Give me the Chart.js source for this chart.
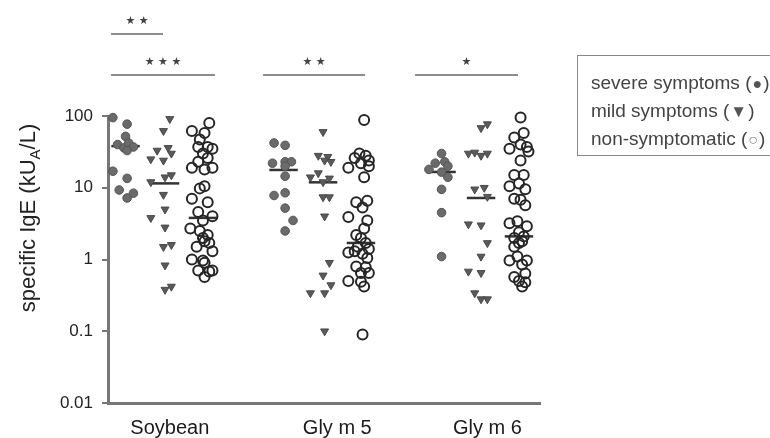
<!DOCTYPE html>
<html>
<head>
<meta charset="utf-8">
<script src="https://cdn.jsdelivr.net/npm/chart.js@4.4.1/dist/chart.umd.min.js"></script>
<style>
  html, body { margin: 0; padding: 0; background: #fff; }
  #wrap { position: relative; width: 770px; height: 438px; overflow: hidden; }
  #legend {
    position: absolute; left: 577px; top: 55px; width: 210px; height: 101px;
    border: 1px solid #888; box-sizing: border-box; padding: 13px 0 0 13px;
    font: 19px "Liberation Sans", Arial, sans-serif; color: #444; line-height: 27px;
  }
  #legend .sym { font-size: 16px; color: #555; padding: 0 1px; }
</style>
</head>
<body>
<div id="wrap">
  <canvas id="chart" width="770" height="438"></canvas>
  <div id="legend">
    <div>severe symptoms (<span class="sym">●</span>)</div>
    <div>mild symptoms (<span class="sym" style="font-size:17px">▼</span>)</div>
    <div>non-symptomatic (<span class="sym" style="color:#888">○</span>)</div>
  </div>
</div>
<script>
// Groups on the x axis and where their names sit (in group units).
const GROUPS = ["Soybean", "Gly m 5", "Gly m 6"];
const GROUP_TICKS = [0.03, 1.09, 2.04];
const SUBGROUPS = ["severe symptoms", "mild symptoms", "non-symptomatic"];
const SUB_OFFSET = [-0.25, 0, 0.24];

const Y_TICKS = [0.01, 0.1, 1, 10, 100];
const Y_TICK_LABELS = ["0.01", "0.1", "1", "10", "100"];

// Each point: [specific IgE kUA/L, horizontal jitter in group units]
const soySevere = [[95,-0.08],[77,0.01],[52,0],[40,-0.05],[36,-0.01],[42,0.02],[37,0.05],[33,0.01],
  [17,-0.08],[13.5,0.01],[9.3,-0.04],[8.4,0.05],[7.2,0.01]];
const soyMild = [[91,0.03],[62,-0.01],[33,-0.05],[36,0.02],[30,0.04],[25,-0.09],[24,-0.01],[14,0],
  [15,0.04],[12,-0.09],[8,-0.01],[5,0],[3.8,-0.09],[2.8,0],[1.5,-0.01],[1.6,0.04],[0.83,0],[0.38,0],[0.42,0.04]];
const soyNon = [[80,0.04],[62,-0.07],[58,0.01],[47,-0.02],[37,-0.03],[37,0.03],[35,0.06],[30,0],[26,0.03],
  [23,-0.03],[19,-0.07],[18,0.01],[19,0.06],[9.8,-0.02],[10.5,0.01],[7,-0.07],[6.3,0.03],[4.6,-0.03],[4,0.06],
  [3.5,0],[2.7,-0.08],[2.5,-0.02],[2.2,0.03],[2.0,0],[1.7,0.04],[1.5,-0.04],[1.8,0.01],[1.3,0.06],[1.0,-0.07],
  [0.97,0],[0.9,0.01],[0.7,-0.03],[0.68,0.04],[0.7,0.06],[0.57,0.01]];

const gly5Severe = [[42,-0.06],[39,0.01],[22,-0.07],[23,0.01],[23,0.05],[20,0.01],[14.5,0.01],[7.8,-0.06],
  [8.5,0.01],[5.2,0.01],[3.5,0.06],[2.5,0.01]];
const gly5Mild = [[60,0],[28,-0.03],[27,0.03],[24,0.01],[23,0.05],[16,-0.03],[14,-0.08],[13.5,0.04],[12,0],
  [7.4,0],[7.4,0.04],[4,0.01],[0.9,0.04],[0.6,0],[0.44,0.05],[0.34,-0.08],[0.34,0.01],[0.1,0.01]];
const gly5Non = [[88,0.02],[30,-0.01],[28,0.03],[26,-0.04],[24,0.05],[22,0],[19,-0.08],[20,0.05],[14,0.02],
  [6.6,0.04],[6.3,-0.03],[5.3,0.01],[3.9,-0.08],[3.5,0.04],[2.7,0.02],[2.2,-0.03],[2.0,0],[1.7,0.03],[1.5,-0.02],
  [1.4,0.05],[1.3,-0.04],[1.2,0.01],[1.25,-0.08],[1.05,0.04],[0.8,-0.03],[0.78,0.03],[0.65,0],[0.65,0.05],
  [0.5,-0.08],[0.49,0],[0.42,0.02],[0.09,0.01]];

const gly6Severe = [[30,0],[22,-0.04],[23,0.02],[20,0.04],[18,-0.08],[16.5,0],[14,0.04],[9.5,0],[4.5,0],[1.1,0]];
const gly6Mild = [[77,0.04],[68,0],[30,-0.08],[31,-0.04],[28,0],[30,0.04],[9.5,-0.04],[10,0.02],[7.5,0.04],
  [3.1,-0.08],[3,0],[1.7,0.04],[1.1,0],[0.68,-0.08],[0.65,0],[0.34,-0.04],[0.28,0],[0.28,0.04]];
const gly6Non = [[95,0.01],[58,0.03],[50,-0.03],[40,0.01],[35,-0.06],[37,0.05],[32,0.06],[24,0.01],[15,-0.03],
  [15,0.03],[10.5,-0.06],[11.5,0],[9.5,0.04],[7,-0.03],[6.8,0.01],[5.7,0.04],[3.2,-0.06],[3.4,-0.01],[2.9,0.05],
  [2.4,0],[2.1,0.03],[2.0,-0.03],[1.8,0.02],[1.7,0],[1.5,-0.03],[1.1,-0.01],[0.97,-0.06],[0.97,0.05],[0.85,0.02],
  [0.57,-0.03],[0.64,0.04],[0.5,0],[0.48,0.04],[0.42,0.02]];

const POINTS = [
  [soySevere, soyMild, soyNon],
  [gly5Severe, gly5Mild, gly5Non],
  [gly6Severe, gly6Mild, gly6Non],
];

// Medians per group, in the order severe / mild / non-symptomatic
const MEDIANS = [[38, 11.5, 3.8], [17.7, 11.9, 1.7], [16.6, 7.2, 2.1]];
const MEDIAN_HALF = 0.09;

// Significance brackets: [from, to] in group units, label, stacking level
const SIG_BARS = [
  [-0.342, 0.316, "★★★", 0],
  [0.62, 1.266, "★★", 0],
  [1.582, 2.234, "★", 0],
  [-0.342, -0.013, "★★", 1],
];

const STYLES = [
  { pointStyle: "circle", radius: 4.3, rotation: 0, backgroundColor: "#6b6b6b", borderColor: "#555", borderWidth: 1 },
  { pointStyle: "triangle", radius: 4.6, rotation: 180, backgroundColor: "#5a5a5a", borderColor: "#4a4a4a", borderWidth: 1 },
  { pointStyle: "circle", radius: 5, rotation: 0, backgroundColor: "rgba(0,0,0,0)", borderColor: "#262626", borderWidth: 2 },
];

const datasets = [];
POINTS.forEach((subs, g) => {
  subs.forEach((pts, s) => {
    const st = STYLES[s];
    datasets.push({
      type: "scatter",
      label: GROUPS[g] + " " + SUBGROUPS[s],
      data: pts.map(([v, j]) => ({ x: g + SUB_OFFSET[s] + j, y: v })),
      pointStyle: st.pointStyle, pointRadius: st.radius, rotation: st.rotation,
      backgroundColor: st.backgroundColor, borderColor: st.borderColor, borderWidth: st.borderWidth,
      clip: false,
    });
  });
  MEDIANS[g].forEach((m, s) => {
    const cx = g + SUB_OFFSET[s];
    datasets.push({
      type: "line",
      data: [{ x: cx - MEDIAN_HALF, y: m }, { x: cx + MEDIAN_HALF, y: m }],
      borderColor: "#333", borderWidth: 2.5, pointRadius: 0, clip: false,
    });
  });
});

const FONT = '"Liberation Sans", Arial, sans-serif';

const extras = {
  id: "extras",
  afterDraw(chart) {
    const { ctx, chartArea, scales } = chart;
    const xs = scales.x;
    ctx.save();
    // significance brackets above the plot
    ctx.strokeStyle = "#666";
    ctx.lineWidth = 1.5;
    ctx.fillStyle = "#444";
    ctx.font = "11px 'DejaVu Sans'";
    ctx.textAlign = "center";
    ctx.textBaseline = "middle";
    for (const [a, b, label, level] of SIG_BARS) {
      const y = chartArea.top - 41 - level * 41;
      const x0 = xs.getPixelForValue(a), x1 = xs.getPixelForValue(b);
      ctx.beginPath();
      ctx.moveTo(x0, y);
      ctx.lineTo(x1, y);
      ctx.stroke();
      ctx.fillText(label.split("").join(" "), (x0 + x1) / 2, y - 13);
    }
    // y axis title with subscript A
    const big = "22px " + FONT, small = "15px " + FONT;
    const p1 = "specific IgE (kU", p2 = "A", p3 = "/L)";
    ctx.font = big;
    const w1 = ctx.measureText(p1).width, w3 = ctx.measureText(p3).width;
    ctx.font = small;
    const w2 = ctx.measureText(p2).width;
    const total = w1 + w2 + w3;
    ctx.translate(35, 218);
    ctx.rotate(-Math.PI / 2);
    ctx.fillStyle = "#222";
    ctx.textAlign = "left";
    ctx.textBaseline = "alphabetic";
    let x = -total / 2;
    ctx.font = big;
    ctx.fillText(p1, x, 0);
    x += w1;
    ctx.font = small;
    ctx.fillText(p2, x, 5);
    x += w2;
    ctx.font = big;
    ctx.fillText(p3, x, 0);
    ctx.restore();
  },
};

new Chart(document.getElementById("chart"), {
  data: { datasets },
  options: {
    responsive: false,
    animation: false,
    layout: { padding: { top: 116, right: 230, left: 0, bottom: 0 } },
    plugins: { legend: { display: false }, tooltip: { enabled: false } },
    scales: {
      x: {
        type: "linear", min: -0.361, max: 2.373,
        grid: { display: false },
        border: { display: true, width: 3, color: "#777" },
        afterBuildTicks: (axis) => { axis.ticks = GROUP_TICKS.map((v) => ({ value: v })); },
        afterFit: (axis) => { axis.height = 35; },
        ticks: {
          autoSkip: false, maxRotation: 0, padding: 5,
          color: "#1a1a1a", font: { family: FONT, size: 20 },
          callback: (v, i) => GROUPS[i],
        },
      },
      y: {
        type: "logarithmic", min: 0.01, max: 100,
        grid: { drawOnChartArea: false, drawTicks: true, tickLength: 6, color: "#777", lineWidth: 2 },
        border: { display: true, width: 3, color: "#777" },
        afterBuildTicks: (axis) => { axis.ticks = Y_TICKS.map((v) => ({ value: v })); },
        afterFit: (axis) => { axis.width = 108; },
        ticks: {
          padding: 9, color: "#222", font: { family: FONT, size: 17 },
          callback: (v, i) => Y_TICK_LABELS[i],
        },
      },
    },
  },
  plugins: [extras],
});
</script>
</body>
</html>
